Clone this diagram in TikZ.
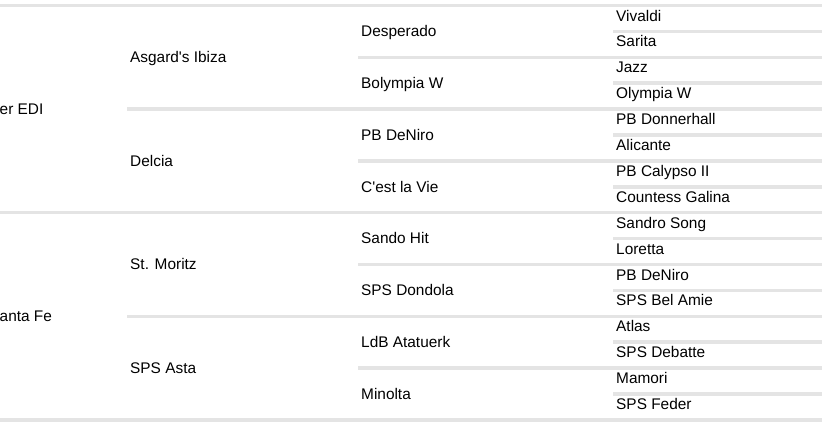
\documentclass[tikz,border=0pt]{standalone}
\usepackage{fontspec}
\setmainfont{Liberation Sans}[Ligatures=TeXOff]
\definecolor{sepgray}{HTML}{E4E4E4}
\begin{document}
\begin{tikzpicture}[x=1pt,y=-1pt,
  sep/.style={draw=sepgray,line width=3.5pt},
  horse/.style={anchor=base west,inner sep=0pt,font=\fontsize{15.4}{18}\selectfont,text=black}]
\useasboundingbox[fill=white] (0,0) rectangle (822,429);
% separator lines
\foreach \k in {0,8,16} \draw[sep] (0,{5.5+25.9*\k}) -- (822,{5.5+25.9*\k});
\foreach \k in {4,12} \draw[sep] (127,{5.5+25.9*\k}) -- (822,{5.5+25.9*\k});
\foreach \k in {2,6,10,14} \draw[sep] (358,{5.5+25.9*\k}) -- (822,{5.5+25.9*\k});
\foreach \k in {1,3,5,7,9,11,13,15} \draw[sep] (613,{5.5+25.9*\k}) -- (822,{5.5+25.9*\k});
% column 1
\foreach \n [count=\j from 0] in {er EDI,anta Fe}
  \node[horse] (a\j) at (-0.5,{5.5+25.9*(8*\j+4)+5.3}) {\n};
% column 2
\foreach \n [count=\j from 0] in {Asgard's Ibiza,Delcia,St. Moritz,SPS Asta}
  \node[horse] (b\j) at (130,{5.5+25.9*(4*\j+2)+5.3}) {\n};
% column 3
\foreach \n [count=\j from 0] in {Desperado,Bolympia W,PB DeNiro,C'est la Vie,Sando Hit,SPS Dondola,LdB Atatuerk,Minolta}
  \node[horse] (c\j) at (361,{5.5+25.9*(2*\j+1)+5.3}) {\n};
% column 4
\foreach \n [count=\j from 0] in {Vivaldi,Sarita,Jazz,Olympia W,PB Donnerhall,Alicante,PB Calypso II,Countess Galina,Sandro Song,Loretta,PB DeNiro,SPS Bel Amie,Atlas,SPS Debatte,Mamori,SPS Feder}
  \node[horse] (d\j) at (616,{21+25.9*\j}) {\n};
\end{tikzpicture}
\end{document}
